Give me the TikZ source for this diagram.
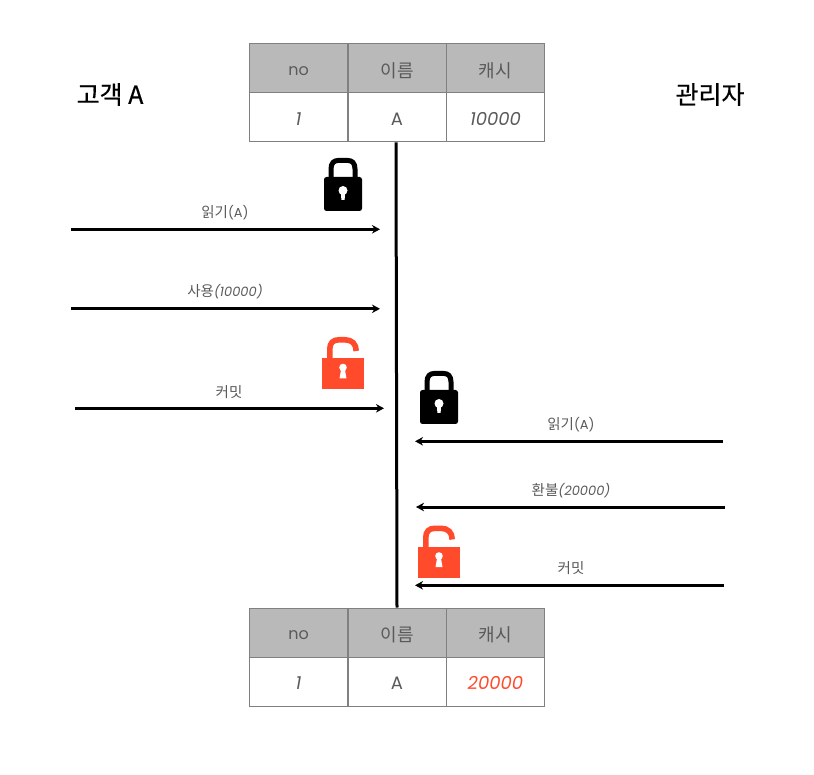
\documentclass[tikz,border=0pt]{standalone}
\usepackage{fontspec}
\setmainfont{Poppins}
\newfontfamily\kr{Noto Sans CJK KR}
\newfontfamily\krh[FakeBold=0.5]{Noto Sans CJK KR}
\usetikzlibrary{arrows.meta}
\definecolor{hdr}{HTML}{B9B9B9}
\definecolor{grid}{HTML}{808080}
\definecolor{txt}{HTML}{5A5A5A}
\definecolor{alert}{HTML}{FF4B2B}
\newcommand{\krm}[1]{{\fontsize{14.5}{15}\selectfont\kr #1}}
\tikzset{
  x=1pt,y=-1pt,
  cellbase/.style={minimum width=98pt,minimum height=49pt,inner sep=0pt,draw=grid,line width=1pt,text=txt,anchor=center},
  headcell/.style={cellbase,fill=hdr},
  bodycell/.style={cellbase,fill=white},
  latincell/.style={text height=14pt,text depth=0pt,font=\fontsize{16}{16}\selectfont},
  lettercell/.style={text height=16pt,text depth=0pt,font=\fontsize{18}{18}\selectfont},
  hangulcell/.style={text height=18pt,text depth=0pt,font=\fontsize{18}{18}\selectfont\kr},
  numcell/.style={text height=16pt,text depth=0pt,font=\fontsize{18}{18}\selectfont\itshape},
  msg/.style={line width=3pt,-{Stealth[length=8pt,width=8.5pt,inset=2.5pt]},black},
  msglabel/.style={text=txt,font=\fontsize{13}{14}\selectfont,inner sep=0pt},
  actor/.style={text=black,font=\fontsize{25}{25}\selectfont,inner sep=0pt},
  pics/closedlock/.style={code={
    \fill[black,rounded corners=2.5pt] (0,19) rectangle (38,53);
    \draw[black,line width=5pt] (7,21) -- (7,11) .. controls (7,5) and (10,2.5) .. (14,2.5) -- (24,2.5) .. controls (28,2.5) and (31,5) .. (31,11) -- (31,21);
    \fill[white] (19,32.5) circle (4.5);
    \fill[white] (16.8,34) -- (21.2,34) -- (20.6,42) -- (17.4,42) -- cycle;
  }},
  pics/openlock/.style={code={
    \fill[alert] (0,21) rectangle (42,52);
    \draw[alert,line width=5.6pt] (7.8,22) -- (7.8,12) .. controls (7.8,6) and (11,2.8) .. (17,2.8) -- (23,2.8) .. controls (30,2.8) and (34.2,7) .. (34.2,14);
    \fill[white] (21,30.5) circle (3.8);
    \fill[white] (19.2,32) -- (22.8,32) -- (24.5,41.5) -- (17.5,41.5) -- cycle;
  }}
}
\begin{document}
\begin{tikzpicture}
\useasboundingbox[fill=white] (0,0) rectangle (814,775);
% top table
\node[headcell,latincell] (t00) at (298.5,68.5) {no};
\node[headcell,hangulcell] (t01) at (397,68.5) {이름};
\node[headcell,hangulcell] (t02) at (495.5,68.5) {캐시};
\node[bodycell,numcell] (t10) at (298.5,117.5) {1};
\node[bodycell,lettercell] (t11) at (397,117.5) {A};
\node[bodycell,numcell] (t12) at (495.5,117.5) {10000};
% bottom table
\node[headcell,latincell] (b00) at (298.5,632.5) {no};
\node[headcell,hangulcell] (b01) at (397,632.5) {이름};
\node[headcell,hangulcell] (b02) at (495.5,632.5) {캐시};
\node[bodycell,numcell] (b10) at (298.5,681.5) {1};
\node[bodycell,lettercell] (b11) at (397,681.5) {A};
\node[bodycell,numcell,text=alert] (b12) at (495.5,681.5) {20000};
% timeline
\draw[line width=3pt,black] ([xshift=-1pt]t11.south) -- (b01.north);
% actors
\node[actor] (custA) at (110,94.5) {\krh 고객 A};
\node[actor] (admin) at (710,94.5) {\krh 관리자};
% free ends
\coordinate (a1s) at (71,229.3); \coordinate (a1e) at (380,229.3);
\coordinate (a2s) at (71,308.8); \coordinate (a2e) at (380,308.8);
\coordinate (a3s) at (75,408.3); \coordinate (a3e) at (384,408.3);
\coordinate (c1s) at (723,441.3); \coordinate (c1e) at (415,441.3);
\coordinate (c2s) at (725,507); \coordinate (c2e) at (416,507);
\coordinate (c3s) at (724,585.3); \coordinate (c3e) at (415,585.3);
\draw[msg] (a1s) -- (a1e);
\draw[msg] (a2s) -- (a2e);
\draw[msg] (a3s) -- (a3e);
\draw[msg] (c1s) -- (c1e);
\draw[msg] (c2s) -- (c2e);
\draw[msg] (c3s) -- (c3e);
% labels
\node[msglabel] (l1) at (225,213) {\krm{읽기}(A)};
\node[msglabel] (l2) at (225,292) {\krm{사용}\itshape(10000)};
\node[msglabel] (l3) at (229,392) {\krm{커밋}};
\node[msglabel] (l4) at (571,425) {\krm{읽기}(A)};
\node[msglabel] (l5) at (571,490.5) {\krm{환불}\itshape(20000)};
\node[msglabel] (l6) at (571,568) {\krm{커밋}};
% locks
\pic at (324,158) {closedlock};
\pic at (420,371) {closedlock};
\pic at (322,337) {openlock};
\pic at (418,525.5) {openlock};
\end{tikzpicture}
\end{document}
